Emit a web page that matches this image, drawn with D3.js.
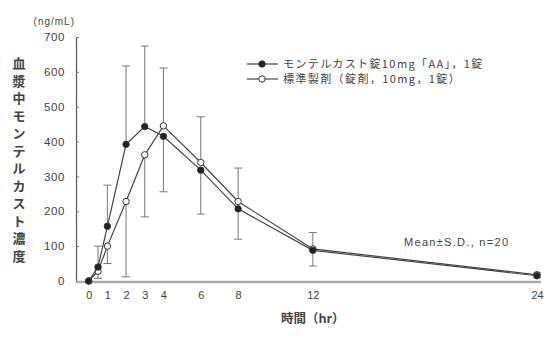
<!DOCTYPE html>
<html>
<head>
<meta charset="utf-8">
<script src="https://cdn.jsdelivr.net/npm/d3@7"></script>
<style>
  body { margin: 0; background: #fff; }
  text { font-family: "Liberation Sans", Arial, "Noto Sans CJK JP", sans-serif; fill: #444; }
  .jp { font-family: "Noto Sans CJK JP", sans-serif; font-weight: bold; }
</style>
</head>
<body>
<div id="chart"></div>
<script>
// data
const times = [0, 0.5, 1, 2, 3, 4, 6, 8, 12, 24];
const testMean = [0, 40, 157, 392, 443, 415, 318, 207, 88, 15];
const testSD = [0, 60, 118, 225, 231, 159, 126, 87, 45, 5];
const refMean = [0, 28, 100, 228, 362, 445, 340, 228, 92, 18];
const refSD = [0, 20, 50, 216, 178, 166, 131, 96, 47, 5];
const xTicks = [0, 1, 2, 3, 4, 6, 8, 12, 24];
const yTicks = [0, 100, 200, 300, 400, 500, 600, 700];
const seriesNames = ["モンテルカスト錠10mg「AA」，1錠", "標準製剤（錠剤，10mg，1錠）"];
const yTitle = "血漿中モンテルカスト濃度";

const width = 549, height = 342;

const svg = d3.select("#chart").append("svg")
    .attr("width", width)
    .attr("height", height);

const x = d3.scaleLinear().domain([0, 24]).range([88.7, 537]);
const y = d3.scaleLinear().domain([0, 700]).range([281, 37]);

// y axis
svg.append("g")
    .attr("transform", "translate(76,0)")
    .call(d3.axisLeft(y).tickValues(yTicks).tickSizeInner(-3).tickSizeOuter(0).tickPadding(11))
    .call(g => g.select(".domain").attr("stroke", "#555").attr("stroke-width", 1.2))
    .call(g => g.selectAll(".tick line").attr("stroke", "#777"))
    .call(g => g.selectAll("text").attr("fill", "#555").style("font-size", "11.5px")
        .style("letter-spacing", "0.6px").attr("font-family", "Liberation Sans, Arial, sans-serif"));

// x axis
svg.append("line")
    .attr("x1", 76).attr("x2", 541)
    .attr("y1", y(0) + 1).attr("y2", y(0) + 1)
    .attr("stroke", "#aaa")
    .attr("stroke-width", 2.5);

svg.append("g")
    .attr("transform", `translate(0,${y(0) + 2})`)
    .call(d3.axisBottom(x).tickValues(xTicks).tickSize(0).tickPadding(8))
    .call(g => g.select(".domain").remove())
    .call(g => g.selectAll("text").attr("fill", "#555").style("font-size", "11px").attr("font-family", "Liberation Sans, Arial, sans-serif"));

// axis titles
svg.append("text")
    .attr("x", 75).attr("y", 25)
    .style("text-anchor", "end")
    .style("font-size", "10px")
    .style("letter-spacing", "1px")
    .text("(ng/mL)");

svg.append("text")
    .attr("class", "jp")
    .attr("x", x(12)).attr("y", 323)
    .style("text-anchor", "middle")
    .style("font-size", "12.5px")
    .text("時間（hr）");

svg.selectAll(".ytitle")
    .data(yTitle.split(""))
    .enter()
    .append("text")
    .attr("class", "jp ytitle")
    .attr("x", 19)
    .attr("y", (d, i) => 68 + i * 17.5)
    .style("text-anchor", "middle")
    .style("font-size", "13px")
    .text(d => d);

// error bars: higher series goes up, lower goes down
const series = [
    {mean: testMean, sd: testSD, fill: "#222"},
    {mean: refMean, sd: refSD, fill: "#fff"}
];

const bars = [];
times.forEach(function(t, i) {
    const upIsTest = testMean[i] >= refMean[i];
    bars.push({t: t, from: testMean[i], to: upIsTest ? testMean[i] + testSD[i] : testMean[i] - testSD[i]});
    bars.push({t: t, from: refMean[i], to: upIsTest ? refMean[i] - refSD[i] : refMean[i] + refSD[i]});
});

const errG = svg.append("g");
errG.selectAll("line.bar")
    .data(bars.filter(b => b.from !== b.to))
    .enter()
    .append("line")
    .attr("class", "bar")
    .attr("x1", d => x(d.t)).attr("x2", d => x(d.t))
    .attr("y1", d => y(d.from)).attr("y2", d => y(Math.max(0, d.to)))
    .attr("stroke", "#777")
    .attr("stroke-width", 1);
errG.selectAll("line.cap")
    .data(bars.filter(b => b.from !== b.to))
    .enter()
    .append("line")
    .attr("class", "cap")
    .attr("x1", d => x(d.t) - 4).attr("x2", d => x(d.t) + 4)
    .attr("y1", d => y(Math.max(0, d.to))).attr("y2", d => y(Math.max(0, d.to)))
    .attr("stroke", "#777")
    .attr("stroke-width", 1);

// lines and markers
const line = d3.line()
    .x(d => x(d[0]))
    .y(d => y(d[1]));

series.slice().reverse().forEach(function(s) {
    const pts = times.map((t, i) => [t, s.mean[i]]);
    svg.append("path")
        .datum(pts)
        .attr("d", line)
        .attr("fill", "none")
        .attr("stroke", "#444")
        .attr("stroke-width", 1.2);
    svg.append("g").selectAll("circle")
        .data(pts)
        .enter()
        .append("circle")
        .attr("cx", d => x(d[0]))
        .attr("cy", d => y(d[1]))
        .attr("r", 3.2)
        .attr("fill", s.fill)
        .attr("stroke", "#333")
        .attr("stroke-width", 1);
});

// legend
const legend = svg.append("g");
series.forEach(function(s, i) {
    const ly = 64 + i * 15;
    legend.append("line")
        .attr("x1", 247).attr("x2", 278)
        .attr("y1", ly).attr("y2", ly)
        .attr("stroke", "#444")
        .attr("stroke-width", 1.2);
    legend.append("circle")
        .attr("cx", 262).attr("cy", ly)
        .attr("r", 3.2)
        .attr("fill", s.fill)
        .attr("stroke", "#333")
        .attr("stroke-width", 1);
    legend.append("text")
        .attr("class", "jp")
        .attr("x", 283).attr("y", ly + 4)
        .style("font-size", "11px")
        .style("letter-spacing", "1.4px")
        .style("font-weight", "normal")
        .text(seriesNames[i]);
});

svg.append("text")
    .attr("x", 404).attr("y", 246)
    .style("font-size", "11px")
    .style("letter-spacing", "1.3px")
    .text("Mean±S.D., n=20");
</script>
</body>
</html>
